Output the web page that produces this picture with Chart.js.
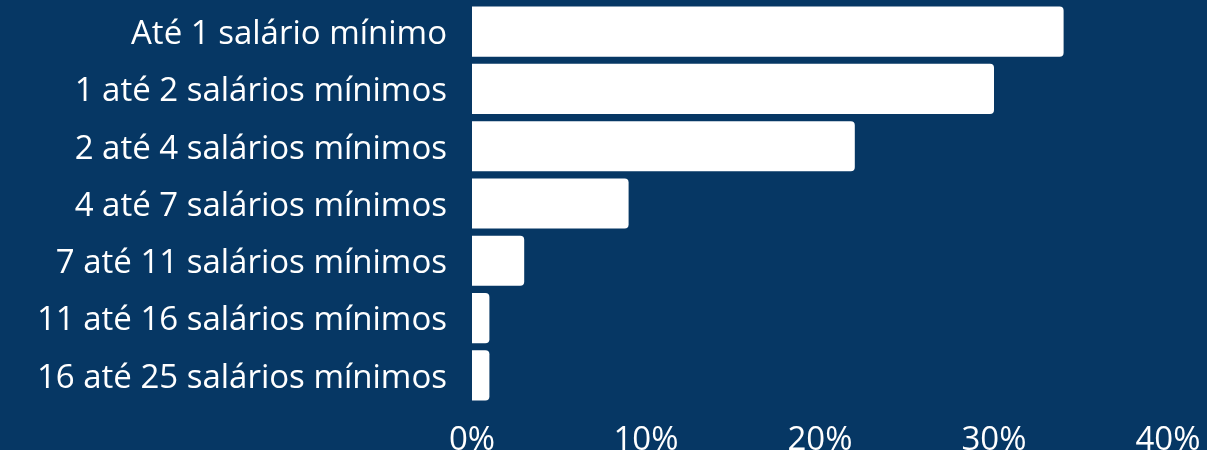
<!DOCTYPE html>
<html>
<head>
<meta charset="utf-8">
<script src="https://cdn.jsdelivr.net/npm/chart.js@4"></script>
<style>
html,body{margin:0;padding:0;background:#063764;overflow:hidden;}
#wrap{width:1207px;height:450px;position:relative;}
</style>
</head>
<body>
<div id="wrap"><canvas id="c"></canvas></div>
<script>
const categories = [
  "Até 1 salário mínimo",
  "1 até 2 salários mínimos",
  "2 até 4 salários mínimos",
  "4 até 7 salários mínimos",
  "7 até 11 salários mínimos",
  "11 até 16 salários mínimos",
  "16 até 25 salários mínimos"
];
const values = [34.0, 30.0, 22.0, 9.0, 3.0, 1.0, 1.0];
const xTicks = [0, 10, 20, 30, 40];

const bgPlugin = {
  id: 'bg',
  beforeDraw(chart) {
    const ctx = chart.ctx;
    ctx.save();
    ctx.fillStyle = '#063764';
    ctx.fillRect(0, 0, chart.width, chart.height);
    ctx.restore();
  }
};

new Chart(document.getElementById('c'), {
  type: 'bar',
  data: {
    labels: categories,
    datasets: [{
      data: values,
      backgroundColor: '#ffffff',
      borderRadius: 4,
      barPercentage: 0.875,
      categoryPercentage: 1.0
    }]
  },
  options: {
    indexAxis: 'y',
    responsive: true,
    maintainAspectRatio: false,
    animation: false,
    layout: { padding: { top: 3, bottom: 0, left: 0, right: 0 } },
    plugins: { legend: { display: false }, tooltip: { enabled: false } },
    scales: {
      x: {
        min: 0, max: 40,
        afterBuildTicks(scale) { scale.ticks = xTicks.map(v => ({ value: v })); },
        afterFit(scale) { scale.height = 46; scale.paddingRight = 39; scale.paddingLeft = 0; },
        grid: { display: false, drawTicks: false },
        border: { display: false },
        ticks: {
          color: '#ffffff',
          padding: 17,
          maxRotation: 0,
          font: { family: 'Open Sans', size: 33 },
          callback: v => v + '%'
        }
      },
      y: {
        afterFit(scale) { scale.width = 472; scale.paddingTop = 0; scale.paddingBottom = 0; },
        grid: { display: false, drawTicks: false },
        border: { display: false },
        ticks: {
          color: '#ffffff',
          padding: 25,
          labelOffset: 3,
          font: { family: 'Open Sans', size: 33 }
        }
      }
    }
  },
  plugins: [bgPlugin]
});
</script>
</body>
</html>
